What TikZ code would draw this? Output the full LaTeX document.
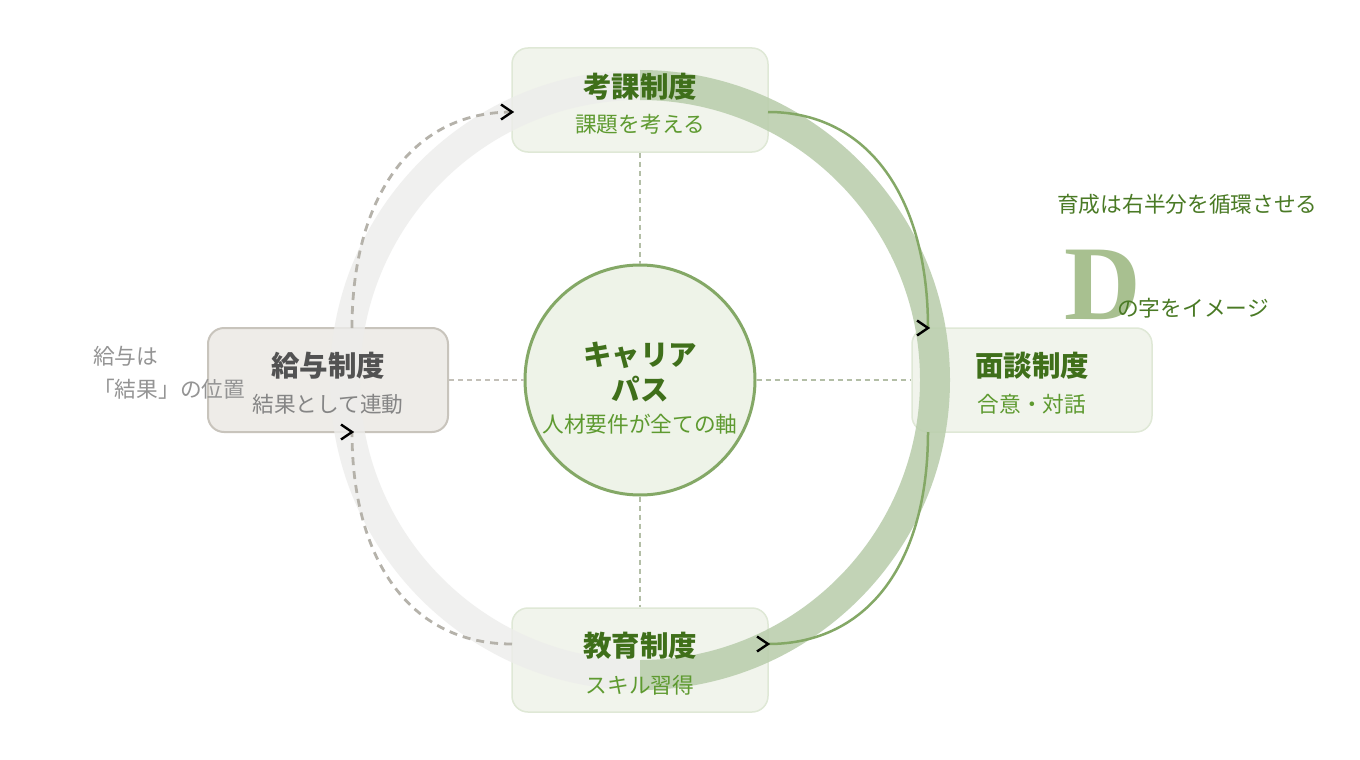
\documentclass[tikz,border=0pt]{standalone}
\usepackage{fontspec}
\setmainfont{Noto Sans CJK JP}
\newfontfamily\dfont{Liberation Serif}
\definecolor{ringgrey}{HTML}{EDEDEB}
\definecolor{ringgreen}{HTML}{BACEAD}
\definecolor{boxfill}{HTML}{F1F4EC}
\definecolor{boxline}{HTML}{DFE8D6}
\definecolor{greyfill}{HTML}{EEECE8}
\definecolor{greyline}{HTML}{C8C4BC}
\definecolor{ttlgreen}{HTML}{3F6F1A}
\definecolor{subgreen}{HTML}{5E9A30}
\definecolor{curvegreen}{HTML}{84A866}
\definecolor{circfill}{HTML}{EEF3E8}
\definecolor{dashgreen}{HTML}{B3BEA6}
\definecolor{dashgrey}{HTML}{C3C0B8}
\definecolor{curvegrey}{HTML}{B5B2AA}
\definecolor{dletter}{HTML}{A8C090}
\definecolor{notegreen}{HTML}{4A7A25}
\begin{document}
\begin{tikzpicture}[x=1pt,y=-1pt,
  gbox/.style={draw=boxline,line width=1.5pt,fill=boxfill,rounded corners=16pt,minimum width=256pt,minimum height=104pt,inner sep=0pt},
  greybox/.style={draw=greyline,line width=2pt,fill=greyfill,rounded corners=16pt,minimum width=240pt,minimum height=104pt,inner sep=0pt},
  ttl/.style={font=\bfseries\fontsize{28.5}{32}\selectfont,text=ttlgreen,inner sep=0pt},
  sub/.style={font=\fontsize{21.7}{25}\selectfont,text=subgreen,inner sep=0pt},
  dline/.style={draw=dashgreen,line width=1.5pt,dash pattern=on 5pt off 4pt},
  dlinegrey/.style={draw=dashgrey,line width=1.5pt,dash pattern=on 5pt off 4pt},
  gcurve/.style={draw=curvegreen,line width=2.5pt},
  dcurve/.style={draw=curvegrey,line width=2.8pt,dash pattern=on 8pt off 6pt},
  chev/.style={draw=black,line width=2.4pt,line cap=butt,line join=miter},
  note/.style={font=\fontsize{21.7}{25}\selectfont,inner sep=0pt,anchor=west}
]
\useasboundingbox (0,0) rectangle (1360,760);
\fill[white] (0,0) rectangle (1360,760);

% nodes
\node[gbox] (kouka) at (640,100) {};
\node[greybox] (kyuyo) at (328,380) {};
\node[gbox,minimum width=240pt] (mendan) at (1032,380) {};
\node[gbox] (kyoiku) at (640,660) {};

% ring (translucent, over the boxes)
\begin{scope}
\clip (0,0) rectangle (640,760);
\draw[ringgrey,line width=30pt,draw opacity=0.8] (640,380) circle[radius=295pt];
\end{scope}
\begin{scope}
\clip (640,0) rectangle (1360,760);
\draw[ringgreen,line width=30pt,draw opacity=0.88] (640,380) circle[radius=295pt];
\end{scope}

\node[circle,draw=curvegreen,line width=3pt,fill=circfill,minimum size=230pt,inner sep=0pt] (career) at (640,380) {};

% straight dashed connectors
\draw[dline] (kouka.south) -- (career.north);
\draw[dline] (career.south) -- (kyoiku.north);
\draw[dline] (career.east) -- (mendan.west);
\draw[dlinegrey] (kyuyo.east) -- (career.west);

% curve endpoints
\coordinate (a1) at (768,112);
\coordinate (a2) at (928,328);
\coordinate (b1) at (928,432);
\coordinate (b2) at (768,644);
\coordinate (c1) at (352,328);
\coordinate (c2) at (512,112);
\coordinate (d1) at (512,644);
\coordinate (d2) at (352,432);

\draw[gcurve] (a1) .. controls (870,112) and (928,200) .. (a2);
\draw[gcurve] (b1) .. controls (928,560) and (870,644) .. (b2);
\draw[dcurve] (c1) .. controls (352,200) and (410,112) .. (c2);
\draw[dcurve] (d1) .. controls (410,644) and (352,560) .. (d2);

% chevrons
\foreach \p in {a2,b2,c2,d2}{
  \draw[chev] ([xshift=-11pt,yshift=7.5pt]\p) -- (\p) -- ([xshift=-11pt,yshift=-7.5pt]\p);
}

% texts
\node[ttl] (kouka-t) at (640,87) {考課制度};
\node[sub] (kouka-s) at (640,124) {課題を考える};
\node[ttl,text=black!68] (kyuyo-t) at (328,366) {給与制度};
\node[sub,text=black!48] (kyuyo-s) at (328,404) {結果として連動};
\node[ttl] (mendan-t) at (1032,366) {面談制度};
\node[sub] (mendan-s) at (1032,404) {合意・対話};
\node[ttl] (kyoiku-t) at (640,646) {教育制度};
\node[sub] (kyoiku-s) at (640,685) {スキル習得};
\node[ttl] (career-t1) at (640,355) {キャリア};
\node[ttl] (career-t2) at (640,389) {パス};
\node[sub] (career-s) at (640,424) {人材要件が全ての軸};

% annotations
\node[note,text=notegreen] (n1) at (1057,204) {育成は右半分を循環させる};
\node[font=\dfont\bfseries\fontsize{106}{110}\selectfont,text=dletter,inner sep=0pt,anchor=base west] (dl) at (1064,319) {D};
\node[note,text=notegreen] (n2) at (1117,308) {の字をイメージ};
\node[note,text=black!42] (n3) at (93,356) {給与は};
\node[note,text=black!42] (n4) at (93,389) {「結果」の位置};
\end{tikzpicture}
\end{document}
